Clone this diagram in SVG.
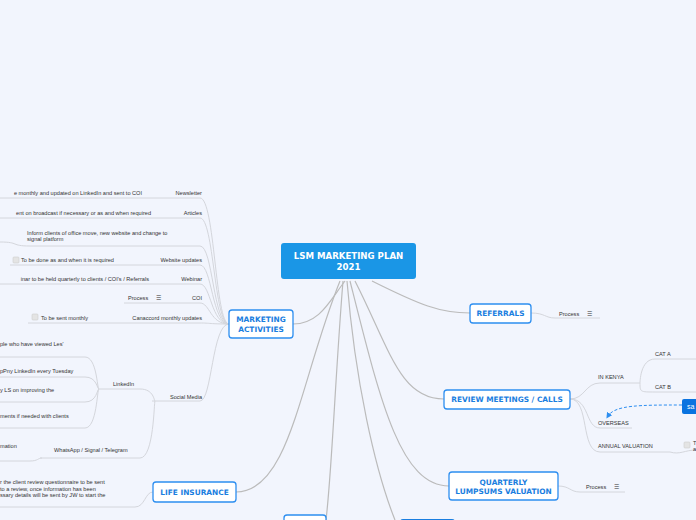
<svg xmlns="http://www.w3.org/2000/svg" width="696" height="520" viewBox="0 0 696 520">
<style>
.t{font-family:"Liberation Sans",Arial,sans-serif;font-size:5.6px;fill:#333}
.b{font-family:"DejaVu Sans",Verdana,sans-serif;font-size:7.4px;font-weight:bold;fill:#1a7ee0;text-anchor:middle}
.w{font-family:"DejaVu Sans",Verdana,sans-serif;font-size:8.6px;font-weight:bold;fill:#fff;text-anchor:middle}
.n{fill:#fff;stroke:#2d8ef0;stroke-width:1.3}
.c{fill:none;stroke:#bbb;stroke-width:1.2}
.l{fill:none;stroke:#d4d6dc;stroke-width:1}
.cb{fill:#e4e4e4;stroke:#ccc;stroke-width:0.6}
.e{text-anchor:end}
</style>
<defs><marker id="ar" markerWidth="6" markerHeight="6" refX="3" refY="3" orient="auto"><path d="M0,0L6,3L0,6z" fill="#2d8ef0"/></marker></defs>
<rect width="696" height="520" fill="#f2f5fd"/>
<g id="connectors">
<path class="c" d="M345,281 C330,300 320,324 293,324"/>
<path class="c" d="M372,281 C420,305 440,313 470,313"/>
<path class="c" d="M355,281 C390,350 400,399 444,399"/>
<path class="c" d="M350,281 C380,400 400,486 449,486"/>
<path class="c" d="M340,281 C300,380 290,492 236,492"/>
<path class="c" d="M343,281 C335,380 332,470 326,520"/>
<path class="c" d="M347,281 C355,380 375,470 395,520"/>
<g>
<path class="l" d="M0,198 H200 C215,198 215,324 229,324"/>
<path class="l" d="M0,218 H200 C214,218 214,324 229,324"/>
<path class="l" d="M0,242 C20,242 10,246 30,246 H200 C213,246 213,324 229,324"/>
<path class="l" d="M10,265 H200 C212,265 212,324 229,324"/>
<path class="l" d="M0,284 H200 C211,284 211,324 229,324"/>
<path class="l" d="M124,303 H200 C210,303 210,324 229,324"/>
<path class="l" d="M28,323 H200 C210,323 210,324 229,324"/>
<path class="l" d="M152,401 H200 C212,401 212,324 229,324"/>
<path class="l" d="M98,389 H140 C154,389 154,401 155,401"/>
<path class="l" d="M40,458 H140 C154,458 154,401 155,401"/>
<path class="l" d="M0,357 H85 C97,357 97,389 99,389"/>
<path class="l" d="M0,377 H85 C97,377 97,389 99,389"/>
<path class="l" d="M0,402 H85 C97,402 97,389 99,389"/>
<path class="l" d="M0,428 H85 C97,428 97,389 99,389"/>
<path class="l" d="M0,461 H30 C38,461 38,458 42,458"/>
<path class="l" d="M0,507 H135 C145,507 145,492 153,492"/>
<path class="l" d="M531,313 C545,313 545,318 555,318 H600"/>
<path class="l" d="M558,486 C570,486 570,492 580,492 H625"/>
<path class="l" d="M570,399 C585,399 585,383 600,383 H640 C640,383 640,359 655,359 H696"/>
<path class="l" d="M640,383 C640,392 640,392 655,392 H696"/>
<path class="l" d="M570,399 C590,399 585,428 600,428 H632"/>
<path class="l" d="M570,399 C590,399 580,452 600,452 H670 C680,455 685,450 696,450"/>
<path d="M682,405 C640,405 615,405 608,416" fill="none" stroke="#2d8ef0" stroke-width="1" stroke-dasharray="3,2" marker-end="url(#ar)"/>
</g>
</g>
<g id="center"><rect x="281" y="243" width="135" height="36" rx="3" fill="#1a96e6"/><text class="w" x="348.5" y="259">LSM MARKETING PLAN</text><text class="w" x="348.5" y="270">2021</text></g>
<g id="marketing"><rect class="n" x="229" y="310" width="64" height="28" rx="3"/><text class="b" x="261" y="322">MARKETING</text><text class="b" x="261" y="332">ACTIVITIES</text></g>
<g id="referrals"><rect class="n" x="470" y="304" width="61" height="19" rx="3"/><text class="b" x="500.5" y="316">REFERRALS</text></g>
<g id="review"><rect class="n" x="444" y="390" width="126" height="19" rx="3"/><text class="b" x="507" y="402">REVIEW MEETINGS / CALLS</text></g>
<g id="quarterly"><rect class="n" x="449" y="472" width="109" height="28" rx="3"/><text class="b" x="503.5" y="485">QUARTERLY</text><text class="b" x="503.5" y="494">LUMPSUMS VALUATION</text></g>
<g id="life"><rect class="n" x="153" y="482" width="83" height="20" rx="3"/><text class="b" x="194.5" y="495">LIFE INSURANCE</text></g>
<g id="bottom1"><rect class="n" x="284" y="515" width="42" height="12" rx="3"/></g>
<g id="bottom2"><rect x="400" y="519" width="55" height="12" rx="3" fill="#1a7ee0"/></g>
<g id="sa"><rect x="682" y="399" width="20" height="15" rx="2" fill="#0a73e0"/><text x="687" y="409" style="font-family:'Liberation Sans',sans-serif;font-size:7px;fill:#fff">sa</text></g>
<g id="labels">
<text class="t e" x="202" y="195">Newsletter</text>
<text class="t e" x="142" y="195">e monthly and updated on LinkedIn and sent to COI</text>
<text class="t e" x="202" y="215">Articles</text>
<text class="t e" x="151" y="215">ent on broadcast if necessary or as and when required</text>
<text class="t" x="27" y="235">Inform clients of office move, new website and change to</text>
<text class="t" x="27" y="241">signal platform</text>
<rect class="cb" x="13" y="257" width="6" height="6" rx="1"/>
<text class="t" x="21" y="262">To be done as and when it is required</text>
<text class="t e" x="202" y="262">Website updates</text>
<text class="t e" x="149" y="281">inar to be held quarterly to clients / COI's / Referrals</text>
<text class="t e" x="202" y="281">Webinar</text>
<text class="t" x="128" y="300">Process</text><text class="t" x="156" y="300">☰</text>
<text class="t e" x="202" y="300">COI</text>
<rect class="cb" x="32" y="314" width="6" height="6" rx="1"/>
<text class="t" x="41" y="320">To be sent monthly</text>
<text class="t e" x="202" y="320">Canaccord monthly updates</text>
<text class="t e" x="202" y="399">Social Media</text>
<text class="t" x="113" y="386">LinkedIn</text>
<text class="t" x="0" y="346">ple who have viewed Les'</text>
<text class="t" x="0" y="373">pPny LinkedIn every Tuesday</text>
<text class="t" x="0" y="392">y LS on improving the</text>
<text class="t" x="0" y="418">ments if needed with clients</text>
<text class="t" x="0" y="448">mation</text>
<text class="t" x="54" y="452">WhatsApp / Signal / Telegram</text>
<text class="t" x="0" y="484">r the client review questionnaire to be sent</text>
<text class="t" x="0" y="491">to a review, once information has been</text>
<text class="t" x="0" y="497">ssary details will be sent by JW to start the</text>
<text class="t" x="559" y="316">Process</text><text class="t" x="587" y="316">☰</text>
<text class="t" x="586" y="489">Process</text><text class="t" x="614" y="489">☰</text>
<text class="t" x="598" y="379">IN KENYA</text>
<text class="t" x="655" y="356">CAT A</text>
<text class="t" x="655" y="389">CAT B</text>
<text class="t" x="598" y="425">OVERSEAS</text>
<text class="t" x="598" y="448">ANNUAL VALUATION</text>
<rect class="cb" x="684" y="442" width="6" height="6" rx="1"/>
<text class="t" x="693" y="445">T</text><text class="t" x="693" y="451">a</text>
</g>
</svg>
